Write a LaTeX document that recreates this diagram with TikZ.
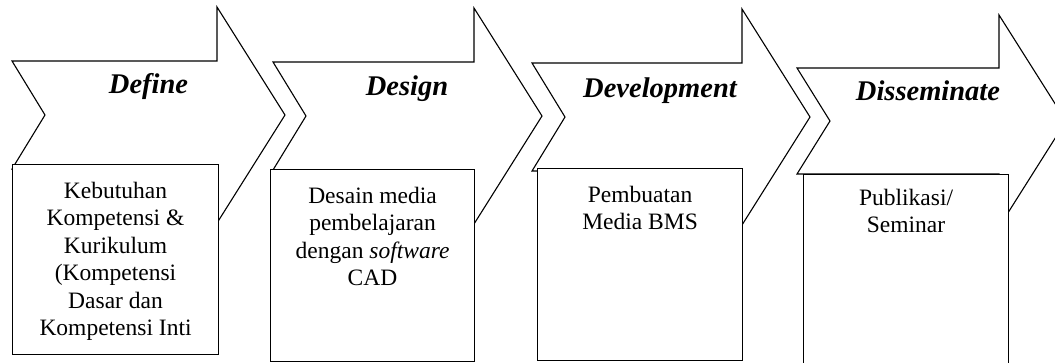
\documentclass[tikz,border=0pt]{standalone}
\usepackage{fontspec}
\setmainfont{Liberation Serif}
\usetikzlibrary{positioning}
\tikzset{
  panah/.style={draw=black, line width=1.1pt, line join=miter},
  kotak/.style={rectangle, draw=black, fill=white, line width=1.1pt,
               minimum width=205pt, anchor=north west, inner sep=0pt},
  isi/.style={align=center, inner sep=0pt, font=\fontsize{23.5}{27.4}\selectfont},
  judul/.style={anchor=base, inner sep=0pt, font=\fontsize{28.5}{32}\selectfont\bfseries\itshape},
}

\begin{document}
\begin{tikzpicture}[x=1pt,y=-1pt]
        \useasboundingbox (0,0) rectangle (1055,362);
        \clip (0,0) rectangle (1055,362);
        % arrows
        \draw[panah](12,61)--(217,61)--(217,7)--(285,115)--(217,223)--(217,169)--(12,169)--(45,115)--cycle;
        \draw[panah](273,62)--(474,62)--(474,8)--(542,116)--(474,224)--(474,170)--(273,170)--(306,116)--cycle;
        \draw[panah](532,63)--(742,63)--(742,9)--(810,117)--(742,225)--(742,171)--(532,171)--(565,117)--cycle;
        \draw[panah](797,68)--(999,68)--(999,15)--(1066,121)--(999,227)--(999,174)--(797,174)--(830,121)--cycle;
        % titles
        \node[judul](judul1) at (148.5,93){Define};
        \node[judul](judul2) at (407,95){Design};
        \node[judul](judul3) at (660,97){Development};
        \node[judul](judul4) at (928,100){Disseminate};
        % boxes
        \node[kotak,minimum width=206pt,minimum height=190pt](kotak1) at (12,164){};
        \node[kotak,minimum width=204pt,minimum height=192pt](kotak2) at (270,169){};
        \node[kotak,minimum height=192pt](kotak3) at (537,168){};
        \node[kotak,minimum height=230pt](kotak4) at (803,174){};
        \node[isi,below=18pt of kotak1.north](isi1){Kebutuhan\\Kompetensi \&\\Kurikulum\\(Kompetensi\\Dasar dan\\Kompetensi Inti};
        \node[isi,below=18pt of kotak2.north](isi2){Desain media\\pembelajaran\\dengan \textit{software}\\CAD};
        \node[isi,below=18pt of kotak3.north](isi3){Pembuatan\\Media BMS};
        \node[isi,below=15pt of kotak4.north](isi4){Publikasi/\\Seminar};
    \end{tikzpicture}
\end{document}
